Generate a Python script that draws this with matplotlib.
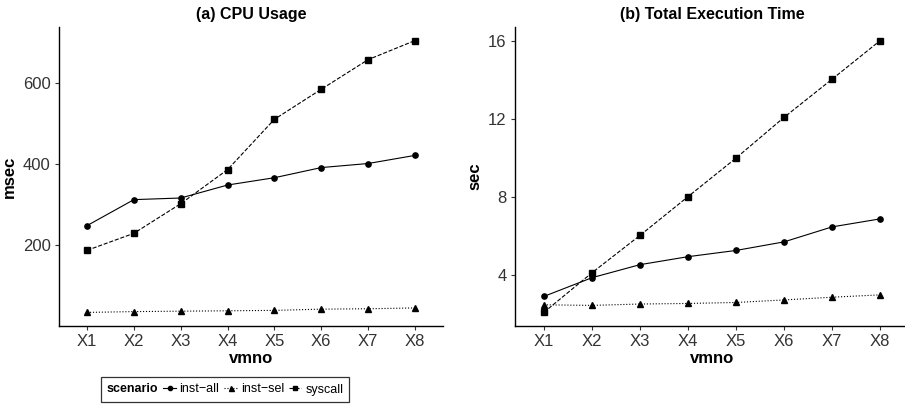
import matplotlib
matplotlib.use("Agg")
import matplotlib.pyplot as plt
from matplotlib.lines import Line2D
from matplotlib.offsetbox import HPacker

plt.rcParams['font.family'] = ['Liberation Sans', 'DejaVu Sans']

vmno = ["X1", "X2", "X3", "X4", "X5", "X6", "X7", "X8"]

# (a) CPU Usage, msec
cpu_inst_all = [249, 313, 317, 349, 367, 392, 402, 422]
cpu_inst_sel = [35, 37, 38, 39, 40, 43, 44, 46]
cpu_syscall = [188, 230, 303, 387, 511, 585, 658, 705]

# (b) Total Execution Time, sec
time_inst_all = [2.89, 3.85, 4.52, 4.93, 5.25, 5.69, 6.46, 6.87]
time_inst_sel = [2.46, 2.43, 2.50, 2.53, 2.58, 2.71, 2.85, 2.97]
time_syscall = [2.07, 4.10, 6.02, 8.01, 9.99, 12.08, 14.04, 16.02]

scenarios = ["inst\u2212all", "inst\u2212sel", "syscall"]
styles = {"inst\u2212all": ("-", "o", 3.8),
          "inst\u2212sel": (":", "^", 4.5),
          "syscall": ("--", "s", 4.0)}

W, H = 905, 405
fig = plt.figure(figsize=(W / 100, H / 100), dpi=100)

def px_axes(x0, y0, x1, y1):
    return fig.add_axes([x0 / W, (H - y1) / H, (x1 - x0) / W, (y1 - y0) / H])

ax1 = px_axes(59, 27, 443, 326)
ax2 = px_axes(515, 27, 909, 326)

x = list(range(1, len(vmno) + 1))
panels = [
    (ax1, [cpu_inst_all, cpu_inst_sel, cpu_syscall], "(a) CPU Usage", "msec", [200, 400, 600]),
    (ax2, [time_inst_all, time_inst_sel, time_syscall], "(b) Total Execution Time", "sec", [4, 8, 12, 16]),
]

for ax, series, title, ylab, yt in panels:
    for name, vals in zip(scenarios, series):
        ls, mk, ms = styles[name]
        ax.plot(x, vals, linestyle=ls, marker=mk, markersize=ms, color="black",
                linewidth=0.8, label=name)
    ax.set_xlim(0.4, len(vmno) + 0.6)
    lo = min(min(s) for s in series)
    hi = max(max(s) for s in series)
    pad = (hi - lo) * 0.05
    ax.set_ylim(lo - pad, hi + pad)
    ax.set_xticks(x)
    ax.set_xticklabels(vmno)
    ax.set_yticks(yt)
    ax.spines['top'].set_visible(False)
    ax.spines['right'].set_visible(False)
    ax.spines['left'].set_linewidth(1.0)
    ax.spines['bottom'].set_linewidth(1.0)
    ax.tick_params(direction='out', length=3, width=0.8, labelsize=12,
                   labelcolor='#333333', color='#333333', pad=3)
    ax.set_title(title, fontsize=11.5, fontweight='bold', pad=6)
    ax.set_ylabel(ylab, fontsize=12, fontweight='bold', labelpad=4)
    ax.set_xlabel("vmno", fontsize=12, fontweight='bold', labelpad=1)

handles = []
for name in scenarios:
    ls, mk, ms = styles[name]
    handles.append(Line2D([], [], linestyle=ls, marker=mk, markersize=ms * 0.8,
                          color="black", linewidth=0.8, label=name))

leg_fs = 9
leg = fig.legend(handles=handles, loc="center", bbox_to_anchor=(225 / W, (H - 389.5) / H),
                 ncol=3, frameon=True, fontsize=leg_fs, handlelength=1.0,
                 handletextpad=0.3, columnspacing=0.4, borderpad=0.5,
                 fancybox=False, edgecolor="black",
                 title="scenario", title_fontproperties={'weight': 'bold', 'size': leg_fs})
leg.get_frame().set_linewidth(0.9)

# put the legend title to the left of the keys, like ggplot
try:
    old = leg._legend_box
    leg._legend_box = HPacker(pad=old.pad, sep=0.4 * leg_fs, align="center",
                              children=[leg._legend_title_box, leg._legend_handle_box])
    leg._legend_box.set_figure(fig)
    leg._legend_box.set_offset(leg._findoffset)
except Exception:
    pass

fig.savefig("out.png", dpi=100)
